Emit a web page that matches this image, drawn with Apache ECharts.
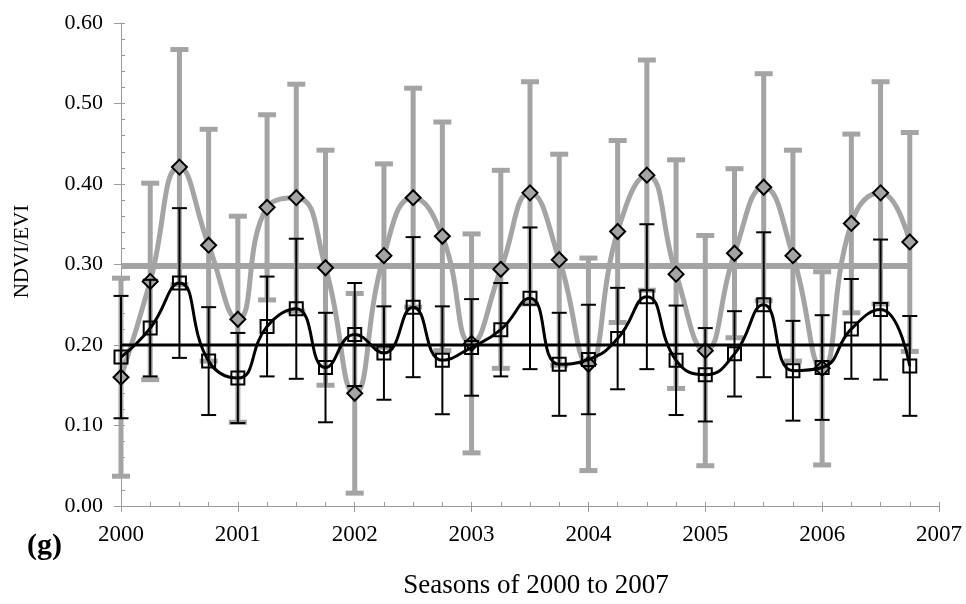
<!DOCTYPE html>
<html>
<head>
<meta charset="utf-8">
<script src="https://cdn.jsdelivr.net/npm/echarts@6/dist/echarts.min.js"></script>
<style>
html,body{margin:0;padding:0;background:#fff;}
#chart{width:966px;height:604px;}
</style>
</head>
<body>
<div id="chart"></div>
<script>
// ---- data ----
const seasons = [2000, 2000.25, 2000.5, 2000.75, 2001, 2001.25, 2001.5, 2001.75,
  2002, 2002.25, 2002.5, 2002.75, 2003, 2003.25, 2003.5, 2003.75,
  2004, 2004.25, 2004.5, 2004.75, 2005, 2005.25, 2005.5, 2005.75,
  2006, 2006.25, 2006.5, 2006.75];
const ndvi = [0.160, 0.279, 0.421, 0.324, 0.232, 0.371, 0.383, 0.296,
  0.140, 0.311, 0.383, 0.335, 0.202, 0.294, 0.389, 0.306,
  0.176, 0.341, 0.411, 0.288, 0.193, 0.314, 0.396, 0.311,
  0.171, 0.351, 0.389, 0.328];
const ndviSd = [0.123, 0.122, 0.146, 0.144, 0.128, 0.115, 0.141, 0.146,
  0.124, 0.114, 0.136, 0.142, 0.136, 0.123, 0.138, 0.131,
  0.132, 0.113, 0.143, 0.142, 0.143, 0.105, 0.141, 0.131,
  0.120, 0.111, 0.138, 0.136];
const evi = [0.185, 0.221, 0.277, 0.180, 0.159, 0.223, 0.245, 0.172,
  0.213, 0.190, 0.247, 0.181, 0.197, 0.219, 0.258, 0.176,
  0.182, 0.208, 0.260, 0.181, 0.163, 0.189, 0.250, 0.168,
  0.172, 0.220, 0.244, 0.174];
const eviSd = [0.076, 0.060, 0.093, 0.067, 0.056, 0.062, 0.087, 0.068,
  0.064, 0.058, 0.087, 0.067, 0.060, 0.058, 0.088, 0.064,
  0.068, 0.063, 0.090, 0.068, 0.058, 0.053, 0.090, 0.062,
  0.065, 0.062, 0.087, 0.062];
const ndviMean = 0.298;
const eviMean = 0.200;
const xTicks = [2000, 2001, 2002, 2003, 2004, 2005, 2006, 2007];
const yTicks = [0.00, 0.10, 0.20, 0.30, 0.40, 0.50, 0.60];
const xTitle = 'Seasons of 2000 to 2007';
const yTitle = 'NDVI/EVI';
const panelLabel = '(g)';

// ---- build ----
const GRAY = '#a4a4a4';
const AXIS = '#9a9a9a';
const FONT = "'Liberation Serif', 'Times New Roman', serif";

const ndviPts = seasons.map((s, i) => [s, ndvi[i]]);
const eviPts = seasons.map((s, i) => [s, evi[i]]);
const ndviErr = seasons.map((s, i) => [s, ndvi[i] - ndviSd[i], ndvi[i] + ndviSd[i]]);
const eviErr = seasons.map((s, i) => [s, evi[i] - eviSd[i], evi[i] + eviSd[i]]);
const first = seasons[0], last = seasons[seasons.length - 1];

function errRender(capW, lw, capLw, color) {
  return function (params, api) {
    const x = api.value(0), lo = api.value(1), hi = api.value(2);
    const pHi = api.coord([x, hi]);
    const pLo = api.coord([x, lo]);
    return {
      type: 'group',
      children: [
        { type: 'line', shape: { x1: pHi[0], y1: pHi[1], x2: pLo[0], y2: pLo[1] }, style: { stroke: color, lineWidth: lw } },
        { type: 'line', shape: { x1: pHi[0] - capW / 2, y1: pHi[1], x2: pHi[0] + capW / 2, y2: pHi[1] }, style: { stroke: color, lineWidth: capLw } },
        { type: 'line', shape: { x1: pLo[0] - capW / 2, y1: pLo[1], x2: pLo[0] + capW / 2, y2: pLo[1] }, style: { stroke: color, lineWidth: capLw } }
      ]
    };
  };
}

const chart = echarts.init(document.getElementById('chart'), null, { renderer: 'canvas' });
chart.setOption({
  animation: false,
  backgroundColor: '#fff',
  grid: { left: 121, right: 27, top: 23, bottom: 95, containLabel: false },
  xAxis: [
    {
      type: 'value', min: xTicks[0], max: xTicks[xTicks.length - 1], interval: 1,
      axisLine: { show: true, lineStyle: { color: AXIS, width: 1 } },
      axisTick: { show: true, inside: false, length: 6, lineStyle: { color: AXIS } },
      splitLine: { show: false },
      axisLabel: { color: '#000', fontFamily: FONT, fontSize: 23, margin: 17, formatter: v => String(v) },
      name: xTitle, nameLocation: 'middle', nameGap: 66,
      nameTextStyle: { color: '#000', fontFamily: FONT, fontSize: 27, padding: [0, 0, 0, 12] }
    },
    {
      type: 'value', min: xTicks[0], max: xTicks[xTicks.length - 1], interval: 0.25,
      position: 'bottom',
      axisLine: { show: false },
      axisTick: { show: true, inside: true, length: 4, lineStyle: { color: AXIS } },
      axisLabel: { show: false }, splitLine: { show: false }
    }
  ],
  yAxis: [
    {
      type: 'value', min: yTicks[0], max: yTicks[yTicks.length - 1], interval: 0.1,
      axisLine: { show: true, lineStyle: { color: AXIS, width: 1 } },
      axisTick: { show: true, inside: false, length: 7, lineStyle: { color: AXIS } },
      splitLine: { show: false },
      axisLabel: { color: '#000', fontFamily: FONT, fontSize: 22, margin: 18, formatter: v => v.toFixed(2) },
      name: yTitle, nameLocation: 'middle', nameGap: 88, nameRotate: 90,
      nameTextStyle: { color: '#000', fontFamily: FONT, fontSize: 21, padding: [0, 0, 0, 26] }
    },
    {
      type: 'value', min: yTicks[0], max: yTicks[yTicks.length - 1], interval: 0.02,
      position: 'left',
      axisLine: { show: false },
      axisTick: { show: true, inside: true, length: 4, lineStyle: { color: AXIS } },
      axisLabel: { show: false }, splitLine: { show: false }
    }
  ],
  graphic: [
    { type: 'text', left: 27, top: 531, style: { text: panelLabel, font: "bold 30px 'Liberation Serif', serif", fill: '#000' } }
  ],
  series: [
    {
      type: 'custom', name: 'NDVI SD', data: ndviErr, encode: { x: 0, y: [1, 2] },
      renderItem: errRender(18, 5, 5, GRAY), z: 1, silent: true
    },
    {
      type: 'line', name: 'NDVI mean', data: [[first, ndviMean], [last, ndviMean]],
      symbol: 'none', lineStyle: { color: GRAY, width: 6 }, z: 2, silent: true
    },
    {
      type: 'line', name: 'NDVI', data: ndviPts, smooth: 0.5,
      symbol: 'diamond', symbolSize: 15, showSymbol: true,
      lineStyle: { color: GRAY, width: 5 },
      itemStyle: { color: GRAY, borderColor: '#000', borderWidth: 2 }, z: 3
    },
    {
      type: 'custom', name: 'EVI SD', data: eviErr, encode: { x: 0, y: [1, 2] },
      renderItem: errRender(15, 2, 2, '#000'), z: 4, silent: true
    },
    {
      type: 'line', name: 'EVI mean', data: [[first, eviMean], [last, eviMean]],
      symbol: 'none', lineStyle: { color: '#000', width: 3 }, z: 5, silent: true
    },
    {
      type: 'line', name: 'EVI', data: eviPts, smooth: 0.5,
      symbol: 'rect', symbolSize: 13, showSymbol: true,
      lineStyle: { color: '#000', width: 3 },
      itemStyle: { color: 'rgba(255,255,255,0)', borderColor: '#000', borderWidth: 2 }, z: 6
    }
  ]
});
</script>
</body>
</html>
